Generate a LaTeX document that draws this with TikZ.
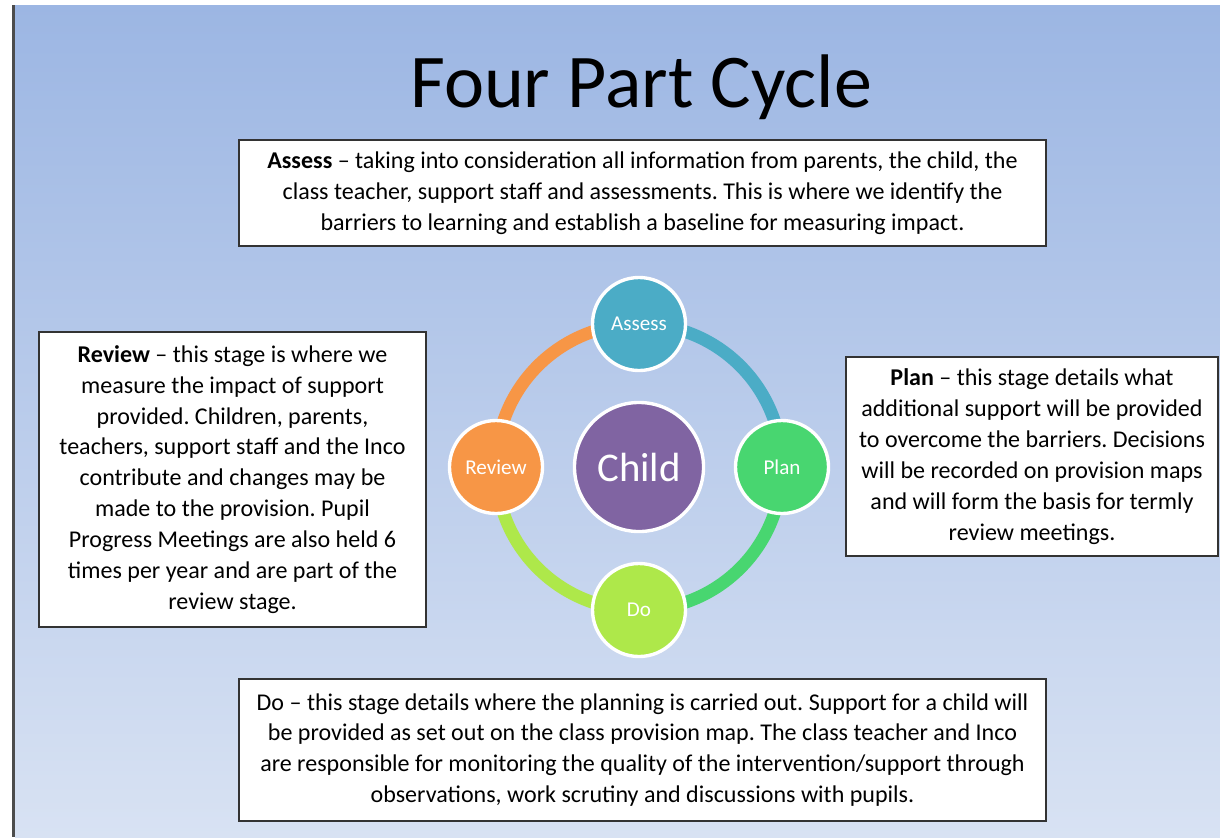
\documentclass[tikz,border=0pt]{standalone}
\usepackage{fontspec}
\setmainfont{Carlito}
\usepackage{xcolor}
\usetikzlibrary{backgrounds}
\frenchspacing

\definecolor{bgtop}{HTML}{9CB6E3}
\definecolor{bgbot}{HTML}{D8E2F3}
\definecolor{assesscol}{HTML}{4BACC6}
\definecolor{plancol}{HTML}{48D670}
\definecolor{docol}{HTML}{AEE84A}
\definecolor{reviewcol}{HTML}{F79646}
\definecolor{childcol}{HTML}{8064A2}

\begin{document}
\begin{tikzpicture}[
  x=0.025cm, y=-0.025cm,
  every node/.style={align=center},
  infobox/.style={rectangle, draw=black!80, line width=1.1pt, fill=white, inner sep=0pt,
    font=\fontsize{17.1}{22}\selectfont},
  stage/.style={circle, draw=white, line width=2.4pt, minimum size=2.325cm, inner sep=0pt,
    text=white, font=\fontsize{15}{17}\selectfont},
  ring/.style={line width=9pt}
]
  % heading
  \node[anchor=base, font=\fontsize{54}{60}\selectfont] (title) at (641,107) {Four Part Cycle};

  % text boxes round the cycle
  \node[infobox, minimum width=20.175cm, minimum height=2.65cm] (assessbox) at (642.5,193)
    {\textbf{Assess} -- taking into consideration all information from parents, the child, the\\
     class teacher, support staff and assessments. This is where we identify the\\
     barriers to learning and establish a baseline for measuring impact.};
  \node[infobox, minimum width=9.675cm, minimum height=7.375cm] (reviewbox) at (232.5,479.5)
    {\textbf{Review} -- this stage is where we\\
     measure the impact of support\\
     provided. Children, parents,\\
     teachers, support staff and the Inco\\
     contribute and changes may be\\
     made to the provision. Pupil\\
     Progress Meetings are also held 6\\
     times per year and are part of the\\
     review stage.};
  \node[infobox, minimum width=9.3cm, minimum height=4.975cm] (planbox) at (1032,456.5)
    {\textbf{Plan} -- this stage details what\\
     additional support will be provided\\
     to overcome the barriers. Decisions\\
     will be recorded on provision maps\\
     and will form the basis for termly\\
     review meetings.};
  \node[infobox, minimum width=20.175cm, minimum height=3.55cm] (dobox) at (642.5,750)
    {Do -- this stage details where the planning is carried out. Support for a child will\\
     be provided as set out on the class provision map. The class teacher and Inco\\
     are responsible for monitoring the quality of the intervention/support through\\
     observations, work scrutiny and discussions with pupils.};

  % the cycle
  \node[stage, minimum size=3.225cm, fill=childcol, font=\fontsize{29}{32}\selectfont] (child) at (639,467) {Child};
  \node[stage, fill=assesscol] (assess) at (639,324) {Assess};
  \node[stage, fill=plancol]   (plan)   at (782,467) {Plan};
  \node[stage, fill=docol]     (do)     at (639,610) {Do};
  \node[stage, fill=reviewcol] (review) at (496,467) {Review};

  \begin{scope}[on background layer]
    \fill[white] (0,0) rectangle (1220,837);
    \fill[top color=bgtop, bottom color=bgbot] (15,5) rectangle (1220,837);
    \fill[black!70] (12,5) rectangle (15,837);

    \draw[ring, assesscol] (assess.center) to[bend left=45] (plan.center);
    \draw[ring, plancol]   (plan.center)   to[bend left=45] (do.center);
    \draw[ring, docol]     (do.center)     to[bend left=45] (review.center);
    \draw[ring, reviewcol] (review.center) to[bend left=45] (assess.center);
  \end{scope}
\end{tikzpicture}
\end{document}
